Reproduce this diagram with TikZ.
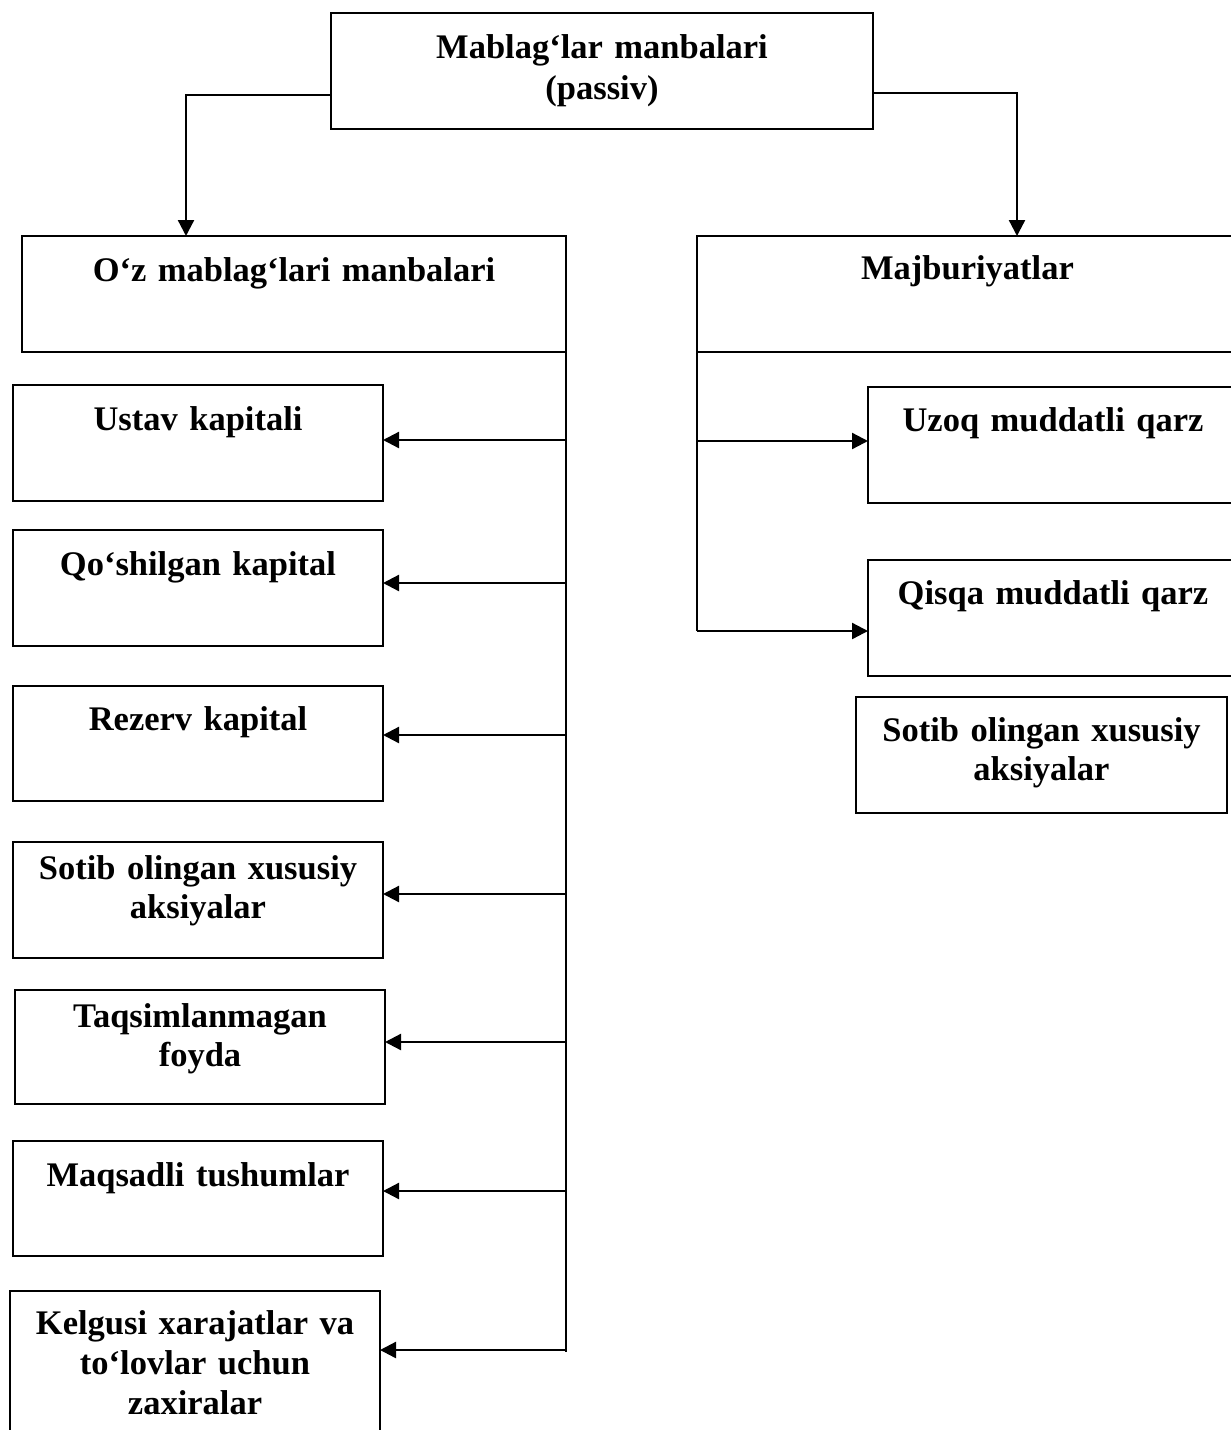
\documentclass[tikz,border=0pt]{standalone}
\usepackage{fontspec}
\setmainfont{Liberation Serif}
\usetikzlibrary{arrows.meta}
\begin{document}
\begin{tikzpicture}[x=1pt,y=-1pt,
  boxst/.style={draw, line width=2.3pt, inner sep=0pt, outer sep=0pt, anchor=north west},
  lbl/.style={font=\fontsize{34.5}{39}\selectfont\bfseries, align=center,
              text width=600pt, inner sep=0pt, anchor=base},
  conn/.style={line width=2.3pt},
  arr/.style={line width=2.3pt, -{Triangle[length=16pt,width=16pt]}}]
\useasboundingbox (0,0) rectangle (1231,1430);

% frames
\node[boxst, minimum width=542pt, minimum height=116pt] (top)   at (331,13)   {};
\node[boxst, minimum width=544pt, minimum height=116pt] (oz)    at (22,236)   {};
\node[boxst, minimum width=541pt, minimum height=116pt] (majb)  at (697,236)  {};
\node[boxst, minimum width=370pt, minimum height=116pt] (ustav) at (13,385)   {};
\node[boxst, minimum width=370pt, minimum height=116pt] (qosh)  at (13,530)   {};
\node[boxst, minimum width=370pt, minimum height=115pt] (rez)   at (13,686)   {};
\node[boxst, minimum width=370pt, minimum height=116pt] (sotl)  at (13,842)   {};
\node[boxst, minimum width=370pt, minimum height=114pt] (taq)   at (15,990)   {};
\node[boxst, minimum width=370pt, minimum height=115pt] (maq)   at (13,1141)  {};
\node[boxst, minimum width=370pt, minimum height=160pt] (kel)   at (10,1291)  {};
\node[boxst, minimum width=370pt, minimum height=116pt] (uzoq)  at (868,387)  {};
\node[boxst, minimum width=370pt, minimum height=116pt] (qisqa) at (868,560)  {};
\node[boxst, minimum width=371pt, minimum height=116pt] (sotr)  at (856,697)  {};

% texts
\node[lbl] (ttop)   at (top   |- 0,58)   {Mablag‘lar manbalari\\[2pt](passiv)};
\node[lbl] (toz)    at (oz    |- 0,281)  {O‘z mablag‘lari manbalari};
\node[lbl] (tmajb)  at (majb  |- 0,279)  {Majburiyatlar};
\node[lbl] (tustav) at (ustav |- 0,430)  {Ustav kapitali};
\node[lbl] (tqosh)  at (qosh  |- 0,575)  {Qo‘shilgan kapital};
\node[lbl] (trez)   at (rez   |- 0,730)  {Rezerv kapital};
\node[lbl] (tsotl)  at (sotl  |- 0,879)  {Sotib olingan xususiy\\aksiyalar};
\node[lbl] (ttaq)   at (taq   |- 0,1027) {Taqsimlanmagan\\foyda};
\node[lbl] (tmaq)   at (maq   |- 0,1186) {Maqsadli tushumlar};
\node[lbl] (tkel)   at (kel   |- 0,1334) {Kelgusi xarajatlar va\\[1pt]to‘lovlar uchun\\[1pt]zaxiralar};
\node[lbl] (tuzoq)  at (uzoq  |- 0,431)  {Uzoq muddatli qarz};
\node[lbl] (tqisqa) at (qisqa |- 0,604)  {Qisqa muddatli qarz};
\node[lbl] (tsotr)  at (sotr  |- 0,741)  {Sotib olingan xususiy\\aksiyalar};

% top level branches
\coordinate (la) at (186,95);
\coordinate (ra) at (1017,93);
\draw[arr] (la -| top.west) -- (la) -- (la |- oz.north);
\draw[arr] (ra -| top.east) -- (ra) -- (ra |- majb.north);

% own funds trunk and branches
\coordinate (ltrunk) at (566,1352);
\draw[conn] (oz.south east) -- (ltrunk);
\foreach \n/\yy in {ustav/440, qosh/583, rez/735, sotl/894, taq/1042, maq/1191, kel/1350}{
  \draw[arr] (ltrunk |- 0,\yy) -- (\n.east |- 0,\yy);
}

% liabilities trunk and branches
\coordinate (rtrunk) at (697,631);
\draw[conn] (majb.south west) -- (rtrunk);
\draw[arr] (rtrunk |- 0,441) -- (uzoq.west |- 0,441);
\draw[arr] (rtrunk) -- (rtrunk -| qisqa.west);
\end{tikzpicture}
\end{document}
